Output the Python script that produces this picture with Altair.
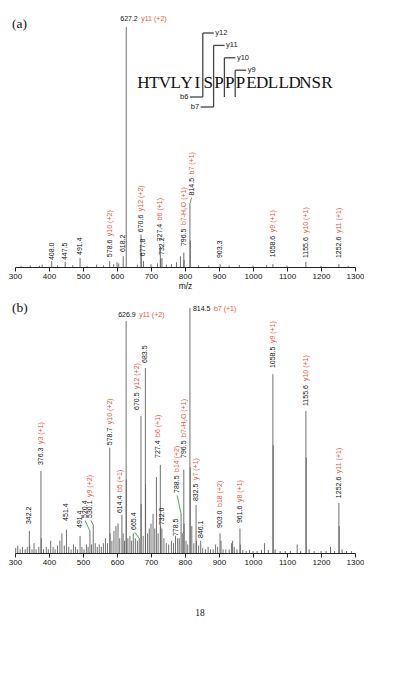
import altair as alt
import pandas as pd

FONT = "Liberation Sans"
SERIF = "Liberation Serif"
RED = "#e8553e"
GREEN = "#3c9c3c"
PEAK = "#606060"
INK = "#111111"

# ---------------- peptide / fragment annotation ----------------
SEQ = "HTVLYISPPPEDLLDNSR"
B_NAMES = ["b6", "b7"]
B_CUTS = [6, 7]
Y_NAMES = ["y12", "y11", "y10", "y9"]
Y_CUTS = [12, 11, 10, 9]

# ---------------- panel (a) ----------------
A_MZ = [318, 345, 372, 380, 408.0, 425, 447.5, 470, 491.4, 512, 540, 560, 578.6, 590,
        600, 605, 618.2, 627.2, 660, 670.6, 671.1, 677.8, 700, 719, 727.4, 728.4, 732.2,
        745, 760, 775, 786.5, 796.5, 797.5, 814.5, 815.5, 840, 870, 903.3, 930, 960,
        1000, 1040, 1058.6, 1100, 1155.6, 1200, 1252.6, 1280]
A_INT = [0.5, 0.6, 0.5, 1.0, 2.5, 0.6, 2.2, 0.7, 3.7, 0.5, 1.0, 0.7, 2.5, 1.2,
         2.0, 1.5, 4.5, 100, 1.0, 13.5, 6.0, 2.5, 1.2, 1.5, 8.5, 3.5, 3.7,
         1.0, 1.2, 2.0, 4.5, 6.0, 3.0, 26.4, 11.0, 0.8, 0.6, 1.2, 0.6, 0.8,
         0.6, 0.8, 1.2, 0.6, 2.2, 0.5, 1.2, 0.5]

A_NUM = ["408.0", "447.5", "491.4", "578.6", "618.2", "670.6", "677.8", "727.4",
         "732.2", "796.5", "814.5", "903.3", "1058.6", "1155.6", "1252.6"]
A_ION = ["", "", "", "y10 (+2)", "", "y12 (+2)", "", "b6 (+1)",
         "", "b7-H₂O (+1)", "b7 (+1)", "", "y9 (+1)", "y10 (+1)", "y11 (+1)"]
A_LX = [408.0, 447.5, 491.4, 578.6, 618.2, 670.6, 677.8, 727.4,
        732.2, 796.5, 820.0, 903.3, 1058.6, 1155.6, 1252.6]
A_LY = [2.9, 2.9, 5.0, 4.1, 6.2, 14.5, 4.5, 10.7,
        5.0, 8.7, 29.8, 3.7, 4.1, 3.7, 3.7]
A_LEAD_MZ = [814.5]
A_LEAD_INT = [26.4]
A_LEAD_LX = [819.5]
A_LEAD_LY = [28.9]
A_TOP_NUM = ["627.2"]
A_TOP_ION = ["y11 (+2)"]
A_TOP_MZ = [627.2]
A_TOP_INT = [100]

# ---------------- panel (b) ----------------
B_MZ = [302, 308, 315, 322, 330, 336, 342.2, 343.2, 350, 356, 362, 370, 376.3, 377.3,
        384, 392, 398, 405, 412, 418, 425, 432, 438, 445, 451.4, 458, 465, 472, 478,
        484, 491.4, 497, 503, 510, 515, 520.4, 525, 530.1, 536, 542, 548, 554, 560,
        566, 572, 578.7, 579.7, 585, 591, 597, 603, 608, 614.4, 618, 622, 626.9, 627.4,
        632, 638, 643, 648, 654, 660, 665.4, 670.5, 671.0, 677, 683.5, 684.0, 690, 695,
        700, 706, 711, 716, 721, 727.4, 728.4, 732.0, 738, 745, 752, 760, 766, 772,
        778.5, 783, 788.5, 792, 796.5, 797.5, 803, 808, 814.5, 815.5, 820, 826, 832.5,
        833.5, 840, 846.1, 852, 860, 868, 875, 883, 890, 896, 903.0, 906, 912, 920,
        930, 937, 940, 945, 953, 961.6, 962.6, 970, 980, 990, 1000, 1012, 1025, 1034,
        1045, 1058.5, 1059.5, 1065, 1080, 1095, 1110, 1130, 1140, 1155.6, 1156.6, 1165,
        1180, 1200, 1215, 1228, 1240, 1252.6, 1253.6, 1262, 1275, 1290]
B_INT = [2, 3, 1.5, 2.5, 1.5, 2.5, 9, 3, 1.5, 4, 1.5, 2.5, 33.5, 6,
         1.5, 2.5, 1.5, 5, 2.5, 1.5, 3, 5, 8, 3, 9.5, 2.5, 1.5, 3.5, 2.5,
         1.5, 7, 2.5, 1.5, 3.5, 2.5, 9, 3.5, 11.5, 4, 2.5, 3.5, 2.5, 4,
         6, 4, 43, 8, 5, 9, 11, 12, 6, 15.5, 8, 5, 94.7, 30,
         6, 7, 5, 8, 6, 5, 6, 56, 20, 7, 75.5, 28, 8, 10,
         12, 16, 10, 31, 8, 36, 11, 10, 6, 4, 3.5, 5, 4, 7,
         6, 6, 16, 8, 34, 12, 5, 3.5, 100, 35, 11, 4, 19.6,
         5, 3, 5, 2, 1.5, 2.5, 1.5, 1.5, 3.5, 2.5, 8, 5, 1.5, 1.5,
         1.5, 4, 5, 2.5, 1.5, 10, 3.5, 1.2, 0.8, 1.2, 0.8, 0.8, 1.2, 4,
         1.2, 73, 44, 1.5, 0.8, 0.8, 0.8, 3.5, 0.8, 58, 39, 1.5,
         0.8, 0.8, 0.8, 2.5, 0.8, 20.4, 11, 1.5, 0.8, 0.8]

B_NUM = ["342.2", "376.3", "451.4", "491.4", "520.4", "530.1", "578.7", "614.4",
         "665.4", "670.5", "683.5", "727.4", "732.0", "778.5", "788.5", "796.5",
         "832.5", "846.1", "903.0", "961.6", "1058.5", "1155.6", "1252.6"]
B_ION = ["", "y3 (+1)", "", "", "", "y9 (+2)", "y10 (+2)", "b5 (+1)",
         "", "y12 (+2)", "", "b6 (+1)", "", "", "b14 (+2)", "b7-H₂O (+1)",
         "y7 (+1)", "", "b18 (+2)", "y8 (+1)", "y9 (+1)", "y10 (+1)", "y11 (+1)"]
B_LX = [342.2, 376.3, 451.4, 491.4, 505.0, 522.0, 578.7, 608.0,
        651.0, 660.0, 683.5, 722.0, 732.0, 774.0, 776.0, 796.5,
        832.5, 846.1, 903.0, 961.6, 1058.5, 1155.6, 1252.6]
B_LY = [11.8, 35.9, 13.1, 10.2, 14.3, 14.3, 44.0, 16.3,
        9.4, 58.4, 77.6, 38.8, 11.4, 6.9, 24.5, 38.8,
        21.2, 6.1, 10.2, 12.2, 75.5, 60.0, 22.4]
B_LEAD_MZ = [520.4, 530.1, 665.4, 788.5]
B_LEAD_INT = [9.0, 11.5, 6.0, 16.0]
B_LEAD_LX = [506.0, 523.0, 652.0, 777.0]
B_LEAD_LY = [13.3, 13.3, 8.5, 23.5]
B_TOP_NUM = ["626.9", "814.5"]
B_TOP_ION = ["y11 (+2)", "b7 (+1)"]
B_TOP_MZ = [626.9, 814.5]
B_TOP_INT = [94.7, 100]

W = 340
A_H, A_YMAX = 253, 105.4
B_H, B_YMAX = 255, 104.1


def xenc(title):
    return alt.X("x:Q", scale=alt.Scale(domain=[300, 1300], nice=False, zero=False),
                 axis=alt.Axis(values=list(range(300, 1301, 100)), format="d",
                               title=title, labelFlush=False, grid=False))


def yenc(ymax):
    return alt.Y("y:Q", scale=alt.Scale(domain=[0, ymax], nice=False, zero=True), axis=None)


def one():
    return pd.DataFrame({"k": [0]})


def panel(mz, inten, num, ion, lx, ly, lead, top, top_dx, ymax, h, title, tag, extra):
    X = xenc(title)
    Y = yenc(ymax)
    peaks = pd.DataFrame({"x": mz, "y": inten})
    labels = pd.DataFrame({"x": lx, "y": ly, "num": num, "ion": ion})
    leads = pd.DataFrame({"x": lead[0], "y": lead[1], "x2": lead[2], "y2": lead[3]})
    layers = []
    layers.append(alt.Chart(peaks).mark_rule(color=PEAK, strokeWidth=0.9)
                  .encode(x=X, y=Y, y2=alt.datum(0)))
    layers.append(alt.Chart(leads).mark_rule(color=GREEN, strokeWidth=0.9)
                  .encode(x=X, y=Y, x2="x2:Q", y2="y2:Q"))
    layers.append(alt.Chart(labels).mark_text(angle=270, align="left", baseline="middle",
                                              fontSize=7, font=FONT, color=INK)
                  .encode(x=X, y=Y, text="num:N"))
    for n, dx in [(5, 21), (6, 25)]:
        layers.append(alt.Chart(labels)
                      .transform_filter(f"length(datum.num) == {n} && datum.ion != ''")
                      .mark_text(angle=270, align="left", baseline="middle",
                                 fontSize=7, font=FONT, color=RED, dx=dx)
                      .encode(x=X, y=Y, text="ion:N"))
    tdf = pd.DataFrame({"x": top[0], "y": top[1], "num": top[2], "ion": top[3]})
    for i, (dx, dy, base) in enumerate(top_dx):
        d = tdf.iloc[[i]]
        layers.append(alt.Chart(d).mark_text(align="left", baseline=base, fontSize=7,
                                             font=FONT, color=INK, dx=dx, dy=dy)
                      .encode(x=X, y=Y, text="num:N"))
        layers.append(alt.Chart(d).mark_text(align="left", baseline=base, fontSize=7,
                                             font=FONT, color=RED, dx=dx + 21, dy=dy)
                      .encode(x=X, y=Y, text="ion:N"))
    layers.append(alt.Chart(one()).mark_text(align="left", baseline="middle", fontSize=13.5,
                                             font=SERIF, color=INK)
                  .encode(x=alt.value(-3), y=alt.value(10), text=alt.value(tag)))
    layers += extra
    return alt.layer(*layers).properties(width=W, height=h)


# sequence diagram for panel (a) (view pixel frame), one residue per fixed-width cell
SEQ_X0, CHAR_W, SEQ_BASE = 123, 10.8, 74
seq_layers = []
for i, aa in enumerate(SEQ):
    seq_layers.append(alt.Chart(one()).mark_text(align="center", baseline="alphabetic",
                                                 fontSize=17, font=SERIF, color=INK)
                      .encode(x=alt.value(SEQ_X0 + (i + 0.5) * CHAR_W),
                              y=alt.value(SEQ_BASE), text=alt.value(aa)))
BR = "#444444"
b_level = {6: 83, 7: 93}


def seg(x1, y1, x2, y2):
    return (alt.Chart(one()).mark_rule(color=BR, strokeWidth=1.3)
            .encode(x=alt.value(x1), y=alt.value(y1), x2=alt.value(x2), y2=alt.value(y2)))


def lab(x, y, t, align):
    return (alt.Chart(one()).mark_text(align=align, baseline="middle", fontSize=7.5,
                                       font=FONT, color="#222222")
            .encode(x=alt.value(x), y=alt.value(y), text=alt.value(t)))


for i, (name, k) in enumerate(zip(Y_NAMES, Y_CUTS)):
    cut = len(SEQ) - k
    cx = SEQ_X0 + cut * CHAR_W
    top = 19 + i * 12.4
    bottom = b_level.get(cut, 83)
    seq_layers.append(seg(cx, top, cx, bottom))
    seq_layers.append(seg(cx, top, cx + 11, top))
    seq_layers.append(lab(cx + 12.5, top, name, "left"))
for name, cut in zip(B_NAMES, B_CUTS):
    cx = SEQ_X0 + cut * CHAR_W
    lvl = b_level[cut]
    seq_layers.append(seg(cx - 13, lvl, cx, lvl))
    seq_layers.append(lab(cx - 14.5, lvl, name, "right"))

page_no = [alt.Chart(one()).mark_text(align="center", baseline="middle", fontSize=9.5,
                                      font=SERIF, color=INK)
           .encode(x=alt.value(185), y=alt.value(315), text=alt.value("18"))]

pa = panel(A_MZ, A_INT, A_NUM, A_ION, A_LX, A_LY,
           (A_LEAD_MZ, A_LEAD_INT, A_LEAD_LX, A_LEAD_LY),
           (A_TOP_MZ, A_TOP_INT, A_TOP_NUM, A_TOP_ION),
           [(-6, -5, "bottom")], A_YMAX, A_H, "m/z", "(a)", seq_layers)
pb = panel(B_MZ, B_INT, B_NUM, B_ION, B_LX, B_LY,
           (B_LEAD_MZ, B_LEAD_INT, B_LEAD_LX, B_LEAD_LY),
           (B_TOP_MZ, B_TOP_INT, B_TOP_NUM, B_TOP_ION),
           [(-8, -3, "bottom"), (3, 1, "middle")], B_YMAX, B_H, None, "(b)", page_no)

chart = (alt.vconcat(pa, pb, spacing=8)
         .properties(padding={"left": 0, "top": 6, "right": 0, "bottom": 0})
         .configure_view(stroke=None)
         .configure_axis(domainColor="#222222", tickColor="#222222", tickSize=4,
                         labelFont=FONT, labelFontSize=8, labelColor=INK, labelPadding=1,
                         titleFont=FONT, titleFontSize=8.5, titleFontWeight="normal",
                         titleColor=INK, titlePadding=1, domainWidth=1, tickWidth=1))

chart.save("out.html", embed_options={"renderer": "svg", "actions": False})
